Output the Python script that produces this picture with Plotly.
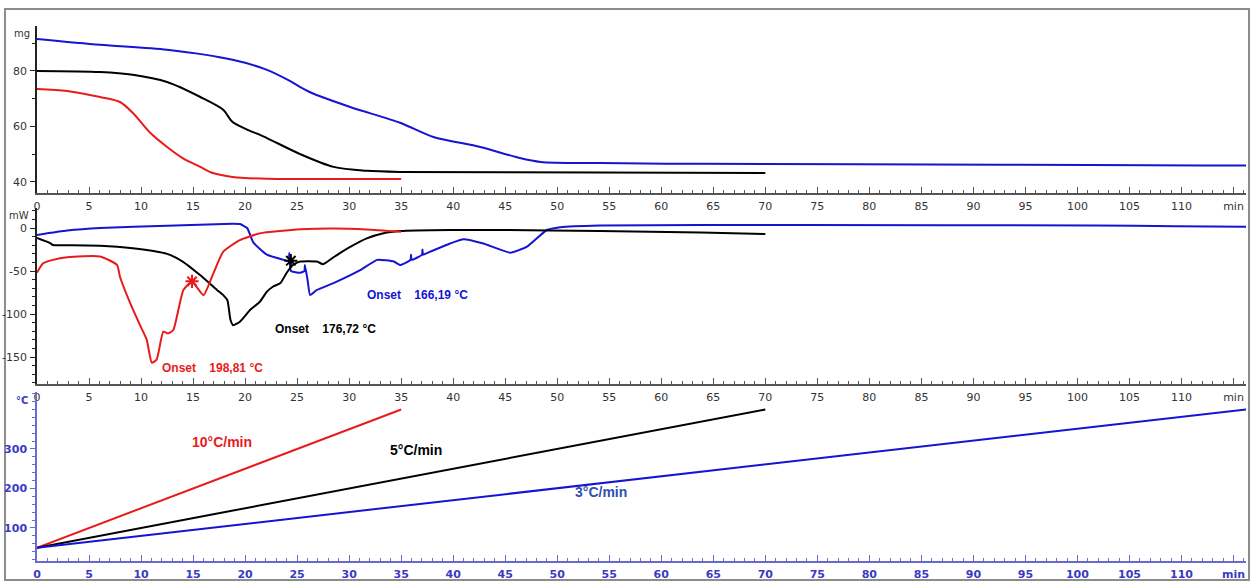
import plotly.graph_objects as go

# ---------------- data ----------------
# TG (mg) vs time (min)
tg_red_t = [0, 2.9, 6.06, 7.98, 9.2, 10.9, 12.5, 14.0, 15.7, 16.9, 18.8, 22.1, 25.3, 35.0]
tg_red_mg = [73.5, 72.8, 70.6, 68.8, 64.9, 57.6, 52.6, 48.6, 45.4, 43.2, 41.8, 41.1, 41.0, 41.0]

tg_black_t = [0, 6.06, 9.2, 12.5, 15.7, 17.9, 18.8, 22.1, 25.3, 28.5, 31.7, 34.9, 54.1, 70.0]
tg_black_mg = [80.0, 79.6, 78.6, 76.0, 70.6, 66.0, 61.6, 55.8, 50.0, 45.4, 44.0, 43.6, 43.4, 43.2]

tg_blue_t = [0, 6.06, 12.5, 18.8, 22.1, 24.3, 25.3, 26.2, 30.1, 34.9, 38.1, 42.6, 46.4, 48.4, 54.1, 63.8, 92.6, 112.3, 116.2]
tg_blue_mg = [91.5, 89.4, 87.6, 84.0, 80.4, 76.4, 74.2, 72.4, 67.0, 61.3, 56.2, 52.6, 48.6, 47.2, 46.8, 46.5, 46.2, 45.9, 45.9]

# DSC (mW) vs time (min)
dsc_red_t = [0, 0.58, 1.54, 2.9, 6.06, 7.7, 7.98, 9.1, 9.98, 10.55, 11.03, 11.5, 12.14, 12.6, 13.1,
             14.07, 14.9, 16.0, 16.95, 17.9, 19.5, 21.4, 25.3, 28.5, 31.7, 35.0]
dsc_red_mw = [-52, -41, -37, -34, -33, -43, -57, -91.5, -115, -130, -156.6, -153, -120.6, -122.5, -118.6,
              -72, -62.4, -78, -52.7, -27.5, -14, -6.2, -1.5, -0.4, -1.6, -4.3]

dsc_black_t = [0, 1.25, 1.54, 2.9, 6.06, 9.2, 12.5, 14.0, 15.7, 17.3, 17.9, 18.3, 18.6, 18.85, 19.5,
               20.5, 21.4, 22.1, 22.7, 23.4, 24.0, 24.6, 25.3, 26.9, 27.5, 28.5, 30.1, 31.7, 33.3,
               34.9, 39.7, 44.5, 54.1, 63.8, 70.0]
dsc_black_mw = [-11.6, -17.5, -19.8, -20, -20.5, -23.5, -30, -39, -55, -72, -78, -84, -107, -113, -109,
                -95, -86, -74, -68, -64, -52, -43, -39, -39, -42, -34, -22, -12, -6,
                -3.5, -2.3, -2.3, -3.5, -5.2, -7]

dsc_blue_t = [0, 2.9, 6.06, 12.5, 18.8, 19.5, 20.2, 20.8, 22.1, 23.7, 24.2, 24.25, 24.4, 25.3, 25.7,
              25.75, 26.0, 26.25, 26.9, 28.5, 31.06, 32.7, 34.3, 34.9, 35.9, 35.95, 36.0, 37.0, 37.05,
              37.1, 37.8, 39.7, 41.0, 42.9, 45.5, 47.1, 49.0, 50.3, 54.1, 73.4, 101.7, 109.4, 116.2]
dsc_blue_mw = [-8, -3, 0, 2.7, 5, 4.7, 0, -17, -31, -37, -38, -29, -50, -52, -50,
               -43, -60, -78, -72, -64, -49, -37, -39, -43, -37, -31, -37, -31, -25,
               -31, -27.5, -18, -13, -18, -28.7, -21.7, -2.3, 1, 3, 3.5, 3, 2, 1.5]

# Onset markers on DSC curves
onset_t = [14.9, 24.4]
onset_mw = [-62, -38]
onset_colors = ["#e81b1b", "#000000"]

# Temperature programmes (°C) vs time (min)
temp_red_t = [0, 35]
temp_red = [50, 400]
temp_black_t = [0, 70]
temp_black = [50, 400]
temp_blue_t = [0, 116.2]
temp_blue = [50, 400]

x_tickvals = list(range(0, 116, 5))
x_ticktext = [str(v) for v in range(0, 115, 5)] + ["min"]
mg_ticks = [40, 60, 80]
mw_ticks = [0, -50, -100, -150]
mw_ticktext = ["0", "-50", "-100", "-150"]
temp_ticks = [100, 200, 300]

RED = "#e81b1b"
BLUE = "#1414d2"
BLACK = "#000000"
AXBLUE = "#3a3ac4"

fig = go.Figure()


def curve(x, y, color, xa, ya, smooth=0.0):
    line = dict(color=color, width=2)
    if smooth > 0:
        line.update(shape="spline", smoothing=smooth)
    return go.Scatter(x=x, y=y, mode="lines", line=line, xaxis=xa, yaxis=ya)


fig.add_trace(curve(tg_blue_t, tg_blue_mg, BLUE, "x", "y", 0.8))
fig.add_trace(curve(tg_black_t, tg_black_mg, BLACK, "x", "y", 0.8))
fig.add_trace(curve(tg_red_t, tg_red_mg, RED, "x", "y", 0.8))

fig.add_trace(curve(dsc_blue_t, dsc_blue_mw, BLUE, "x2", "y2", 0.4))
fig.add_trace(curve(dsc_black_t, dsc_black_mw, BLACK, "x2", "y2", 0.5))
fig.add_trace(curve(dsc_red_t, dsc_red_mw, RED, "x2", "y2", 0.5))
fig.add_trace(go.Scatter(x=onset_t, y=onset_mw, mode="markers",
                         marker=dict(symbol="asterisk-open", size=11, color=onset_colors,
                                     line=dict(color=onset_colors, width=2)),
                         xaxis="x2", yaxis="y2"))

fig.add_trace(curve(temp_red_t, temp_red, RED, "x3", "y3"))
fig.add_trace(curve(temp_black_t, temp_black, BLACK, "x3", "y3"))
fig.add_trace(curve(temp_blue_t, temp_blue, BLUE, "x3", "y3"))


def xax(anchor, linecolor, fontcolor, bold=False):
    return dict(
        anchor=anchor, domain=[0, 1], range=[0, 116.2], automargin=False,
        tickmode="array", tickvals=x_tickvals, ticktext=x_ticktext,
        ticks="inside", ticklen=6, tickwidth=1, tickcolor=linecolor,
        showline=True, linecolor=linecolor, linewidth=1.5,
        showgrid=False, zeroline=False,
        minor=dict(tickmode="linear", tick0=0, dtick=1, ticks="inside", ticklen=3,
                   tickcolor=linecolor, showgrid=False),
        tickfont=dict(family="DejaVu Sans", size=11, color=fontcolor,
                      weight="bold" if bold else "normal"),
        ticklabelstandoff=2,
    )


def yax(anchor, domain, rng, tickvals, ticktext, minor_dtick, linecolor, fontcolor, bold=False):
    return dict(
        anchor=anchor, domain=domain, range=rng, automargin=False,
        tickmode="array", tickvals=tickvals, ticktext=ticktext,
        ticks="outside", ticklen=5, tickwidth=1, tickcolor=linecolor,
        showline=True, linecolor=linecolor, linewidth=1.5,
        showgrid=False, zeroline=False,
        minor=dict(tickmode="linear", tick0=0, dtick=minor_dtick, ticks="outside", ticklen=3,
                   tickcolor=linecolor, showgrid=False),
        tickfont=dict(family="DejaVu Sans", size=11, color=fontcolor,
                      weight="bold" if bold else "normal"),
        ticklabelstandoff=1,
    )


fig.update_layout(
    width=1252, height=584,
    margin=dict(l=37, r=6, t=26, b=23),
    paper_bgcolor="white", plot_bgcolor="white",
    showlegend=False,
    xaxis=xax("y", "#555555", "#333333"),
    xaxis2=xax("y2", "#555555", "#333333"),
    xaxis3=xax("y3", "#6a6ad0", AXBLUE, bold=True),
    yaxis=yax("x", [0.6879, 1.0], [36.0, 96.2], mg_ticks, [str(v) for v in mg_ticks], 10, "#222222", "#333333"),
    yaxis2=yax("x2", [0.3308, 0.6598], [-181.4, 23.3], mw_ticks, mw_ticktext, 10, "#222222", "#333333"),
    yaxis3=yax("x3", [0.0, 0.3159], [16.4, 444.3], temp_ticks, [str(v) for v in temp_ticks], 20, "#6a6ad0", AXBLUE, bold=True),
)

# outer frame
fig.add_shape(type="rect", xref="paper", yref="paper", x0=-0.0265, x1=1.0025, y0=-0.0355, y1=1.0318,
              line=dict(color="#8c8c8c", width=2), fillcolor="rgba(0,0,0,0)", layer="below")

NB = "\u00a0"
annots = [
    # axis unit labels
    dict(text="mg", xref="paper", yref="paper", x=-0.0124, y=0.9869, font=dict(family="DejaVu Sans", size=10, color="#333333")),
    dict(text="mW", xref="paper", yref="paper", x=-0.0149, y=0.6467, font=dict(family="DejaVu Sans", size=10, color="#333333")),
    dict(text="°C", xref="paper", yref="paper", x=-0.0124, y=0.3009, font=dict(family="DejaVu Sans", size=10, color=AXBLUE, weight="bold")),
    # onset labels
    dict(text="Onset" + NB * 4 + "198,81 °C", xref="x2", yref="y2", x=11.8, y=-162.8, xanchor="left",
         font=dict(family="Liberation Sans", size=12, color=RED, weight="bold")),
    dict(text="Onset" + NB * 4 + "176,72 °C", xref="x2", yref="y2", x=22.7, y=-117.5, xanchor="left",
         font=dict(family="Liberation Sans", size=12, color=BLACK, weight="bold")),
    dict(text="Onset" + NB * 4 + "166,19 °C", xref="x2", yref="y2", x=31.5, y=-78, xanchor="left",
         font=dict(family="Liberation Sans", size=12, color=BLUE, weight="bold")),
    # heating rates
    dict(text="10°C/min", xref="x3", yref="y3", x=14.7, y=317.7, xanchor="left",
         font=dict(family="Liberation Sans", size=14, color=RED, weight="bold")),
    dict(text="5°C/min", xref="x3", yref="y3", x=33.75, y=297.5, xanchor="left",
         font=dict(family="Liberation Sans", size=14, color=BLACK, weight="bold")),
    dict(text="3°C/min", xref="x3", yref="y3", x=51.5, y=191, xanchor="left",
         font=dict(family="Liberation Sans", size=14, color="#2f4fb0", weight="bold")),
]
for a in annots:
    a.setdefault("xanchor", "center")
    fig.add_annotation(showarrow=False, yanchor="middle", **a)

fig.write_html("out.html")
